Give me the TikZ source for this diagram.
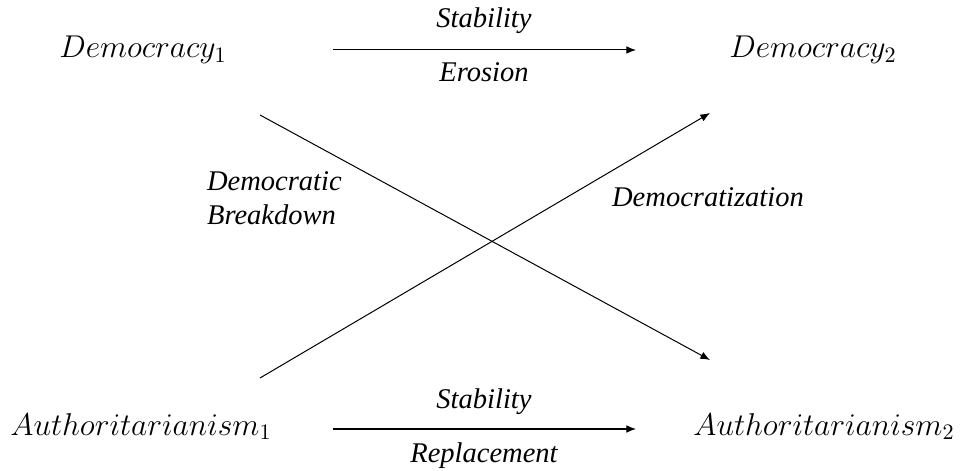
\RequirePackage{fix-cm}
\documentclass[tikz,border=0pt]{standalone}
\usepackage{fontspec}
\newfontfamily\labelfont{Liberation Serif Italic}
\usetikzlibrary{positioning}
\usetikzlibrary{arrows.meta}
\tikzset{
  state/.style={font=\fontsize{15.7}{19}\selectfont, anchor=base},
  path label/.style={font=\fontsize{14.2}{17}\labelfont, anchor=base},
  trans/.style={-{Latex[length=4.8pt,width=3.8pt]}, line width=0.5pt}
}
\begin{document}
\begin{tikzpicture}[x=0.7cm,y=0.7cm]
		\useasboundingbox (0,0) rectangle (24,11.75);
		% Define the regime states
		\node[state] (D1) at (3.575,10.3) {$Democracy_1$};
		\node[state] (D2) at (20.325,10.3) {$Democracy_2$};
		\node[state] (A1) at (3.525,0.875) {$Authoritarianism_1$};
		\node[state] (A2) at (20.6,0.875) {$Authoritarianism_2$};

		% Define the ends of the transitions
		\coordinate (D1e) at (8.325,10.5);
		\coordinate (D2w) at (15.9,10.5);
		\coordinate (A1e) at (8.325,1.025);
		\coordinate (A2w) at (15.9,1.025);
		\coordinate (D1s) at (6.5,8.875);
		\coordinate (A2n) at (17.75,2.75);
		\coordinate (A1n) at (6.5,2.3);
		\coordinate (D2s) at (17.75,8.925);

		% Draw the transitions
		\draw[trans] (D1e) -- (D2w);
		\draw[trans] (A1e) -- (A2w);
		\draw[trans] (D1s) -- (A2n);
		\draw[trans] (A1n) -- (D2s);

		% Labels of the transitions
		\node[path label] (stabD) at (12.1,11.05) {Stability};
		\node[path label] (eros) at (12.1,9.7) {Erosion};
		\node[path label] (stabA) at (12.1,1.55) {Stability};
		\node[path label] (repl) at (12.1,0.2) {Replacement};
		\node[path label, anchor=west, align=left] (brk) at (5.0,6.8) {Democratic\\Breakdown};
		\node[path label] (demz) at (17.7,6.575) {Democratization};
	\end{tikzpicture}
\end{document}
